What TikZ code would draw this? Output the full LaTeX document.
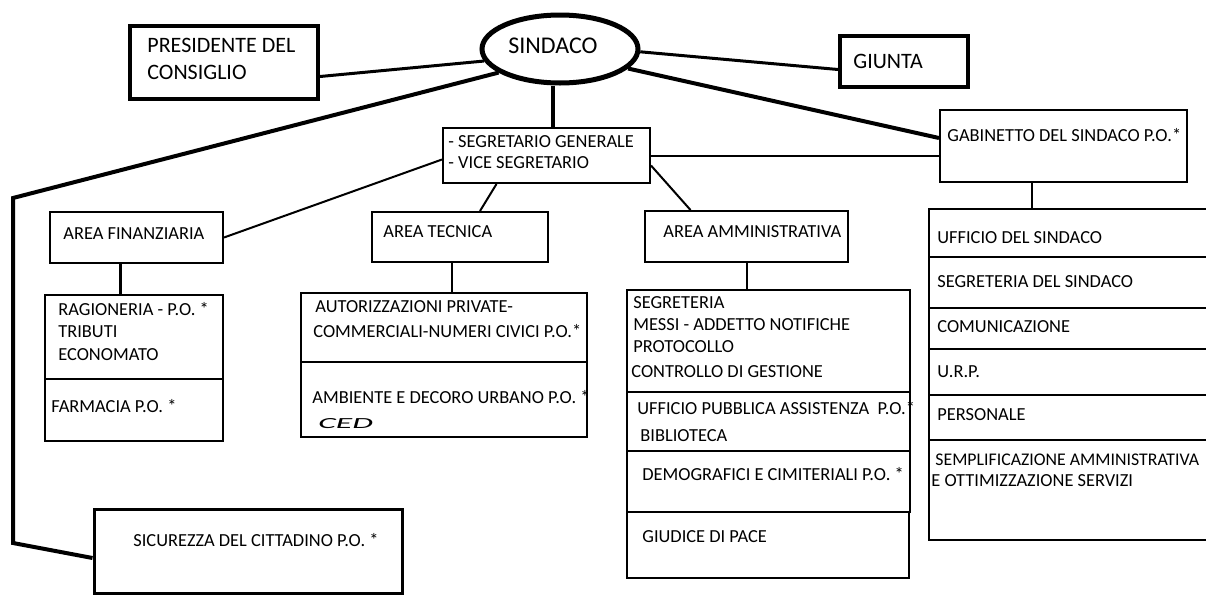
\documentclass[tikz,border=0pt]{standalone}
\usepackage{fontspec}
\setmainfont{Carlito}
\usetikzlibrary{positioning}
\usetikzlibrary{calc}
\usetikzlibrary{fit}
\usetikzlibrary{shapes.geometric}

\tikzset{
	box/.style={draw, inner sep=0pt, line width=1pt},
	boldbox/.style={draw, inner sep=0pt, line width=2pt},
	txt/.style={anchor=base west, inner sep=0pt, font=\fontsize{9.2}{10}\selectfont},
	bigtxt/.style={anchor=base west, inner sep=0pt, font=\fontsize{11}{13}\selectfont},
	link/.style={line width=1pt},
	boldlink/.style={line width=2pt}
}

\begin{document}
\begin{tikzpicture}[x=0.5pt,y=-0.5pt]
	\useasboundingbox (0,0) rectangle (1206,595);
	\node[draw, ellipse, line width=2.5pt, minimum width=78pt, minimum height=34pt, inner sep=0pt] (sindaco) at (560,49) {};
	\node[bigtxt, font=\fontsize{12}{14}\selectfont] (sindaco-t) at (508,53) {SINDACO};
	\node[boldbox, fit={(130,26) (318,99)}] (pres) {};
	\node[bigtxt] (pres-t1) at (147,52) {PRESIDENTE DEL};
	\node[bigtxt] (pres-t2) at (147,79) {CONSIGLIO};
	\node[boldbox, fit={(840,36) (968,87)}] (giunta) {};
	\node[bigtxt] (giunta-t) at (853,68) {GIUNTA};
	\node[box, fit={(443,128) (650,183)}] (segr) {};
	\node[txt] (segr-t1) at (448,147) {- SEGRETARIO GENERALE};
	\node[txt] (segr-t2) at (448,168) {- VICE SEGRETARIO};
	\node[box, fit={(940,110) (1187,182)}] (gab) {};
	\node[txt] (gab-t) at (947,141) {GABINETTO DEL SINDACO P.O.*};
	\node[box, fit={(50,212) (223,263)}] (fin) {};
	\node[txt] (fin-t) at (63,239) {AREA FINANZIARIA};
	\node[box, fit={(372,212) (548,262)}] (tec) {};
	\node[txt] (tec-t) at (383,237) {AREA TECNICA};
	\node[box, fit={(645,211) (848,262)}] (amm) {};
	\node[txt] (amm-t) at (663,237) {AREA AMMINISTRATIVA};
	\node[box, fit={(45,295) (223,379)}] (ragio) {};
	\node[txt] (ragio-t1) at (58,315) {RAGIONERIA - P.O. *};
	\node[txt] (ragio-t2) at (58,337) {TRIBUTI};
	\node[txt] (ragio-t3) at (58,360) {ECONOMATO};
	\node[box, fit={(45,379) (223,441)}] (farm) {};
	\node[txt] (farm-t) at (51,412) {FARMACIA P.O. *};
	\node[box, fit={(301,293) (587,362)}] (autor) {};
	\node[txt] (autor-t1) at (315,312) {AUTORIZZAZIONI PRIVATE-};
	\node[txt] (autor-t2) at (313,337) {COMMERCIALI-NUMERI CIVICI P.O.*};
	\node[box, fit={(301,362) (587,437)}] (amb) {};
	\node[txt] (amb-t) at (312,403) {AMBIENTE E DECORO URBANO P.O. *};
	\node[txt] (ced-t) at (318,428) {\scalebox{2.4}[1.1]{\fontsize{7}{8}\selectfont\itshape CED}};
	\node[box, fit={(627,290) (910,392)}] (segre) {};
	\node[txt] (segre-t1) at (633,308) {SEGRETERIA};
	\node[txt] (segre-t2) at (633,330) {MESSI - ADDETTO NOTIFICHE};
	\node[txt] (segre-t3) at (633,352) {PROTOCOLLO};
	\node[txt] (segre-t4) at (631,377) {CONTROLLO DI GESTIONE};
	\node[box, fit={(627,392) (910,451)}] (pubb) {};
	\node[txt] (pubb-t1) at (637,414) {UFFICIO PUBBLICA ASSISTENZA~~P.O.*};
	\node[txt] (pubb-t2) at (640,441) {BIBLIOTECA};
	\node[box, fit={(627,451) (910,512)}] (demo) {};
	\node[txt] (demo-t) at (642,480) {DEMOGRAFICI E CIMITERIALI P.O. *};
	\node[box, fit={(627,512) (909,578)}] (giud) {};
	\node[txt] (giud-t) at (642,542) {GIUDICE DI PACE};
	\node[box, fit={(929,209) (1215,257)}] (uff) {};
	\node[txt] (uff-t) at (937,243) {UFFICIO DEL SINDACO};
	\node[box, fit={(929,257) (1215,308)}] (segsin) {};
	\node[txt] (segsin-t) at (937,287) {SEGRETERIA DEL SINDACO};
	\node[box, fit={(929,308) (1215,349)}] (comu) {};
	\node[txt] (comu-t) at (937,332) {COMUNICAZIONE};
	\node[box, fit={(929,349) (1215,395)}] (urp) {};
	\node[txt] (urp-t) at (937,377) {U.R.P.};
	\node[box, fit={(929,395) (1215,440)}] (pers) {};
	\node[txt] (pers-t) at (937,420) {PERSONALE};
	\node[box, fit={(929,440) (1215,540)}] (sempl) {};
	\node[txt, font=\fontsize{8.9}{10}\selectfont] (sempl-t1) at (935,465) {SEMPLIFICAZIONE AMMINISTRATIVA};
	\node[txt] (sempl-t2) at (931,486) {E OTTIMIZZAZIONE SERVIZI};
	\node[box, line width=1.5pt, fit={(94,509) (402,593)}] (sic) {};
	\node[txt] (sic-t) at (133,546) {SICUREZZA DEL CITTADINO P.O. *};
	\coordinate (bendA) at (13,198);
	\coordinate (bendB) at (13,543);
	\draw[link, line width=1.5pt] (sindaco.189) -- ([yshift=-7pt]pres.east);
	\draw[link, line width=1.5pt] (sindaco.358) -- ([yshift=-4pt]giunta.west);
	\draw[boldlink] (sindaco.344) -- ([yshift=4pt]gab.west);
	\draw[boldlink] (sindaco.201) -- (bendA) -- (bendB) -- ([yshift=-3.5pt]sic.west);
	\draw[boldlink] ([xshift=-3.5pt]sindaco.south) -- ([xshift=-3.5pt]sindaco.south |- segr.north);
	\draw[link] (segr.east) -- (segr.east -| gab.west);
	\draw[link] ([yshift=-2pt]segr.west) -- (fin.east);
	\draw[link] ([xshift=-25pt]segr.south) -- ([xshift=10pt]tec.north);
	\draw[link] ([yshift=-5pt]segr.east) -- ([xshift=-28pt]amm.north);
	\draw[link, line width=1.3pt] ([xshift=-8pt]fin.south) -- ([xshift=-8pt]fin.south |- ragio.north);
	\draw[link] ([xshift=-4pt]tec.south) -- ([xshift=-4pt]tec.south |- autor.north);
	\draw[link] (amm.south) -- (amm.south |- segre.north);
	\draw[link] ([xshift=-15.75pt]gab.south) -- ([xshift=-15.75pt]gab.south |- uff.north);
\end{tikzpicture}
\end{document}
